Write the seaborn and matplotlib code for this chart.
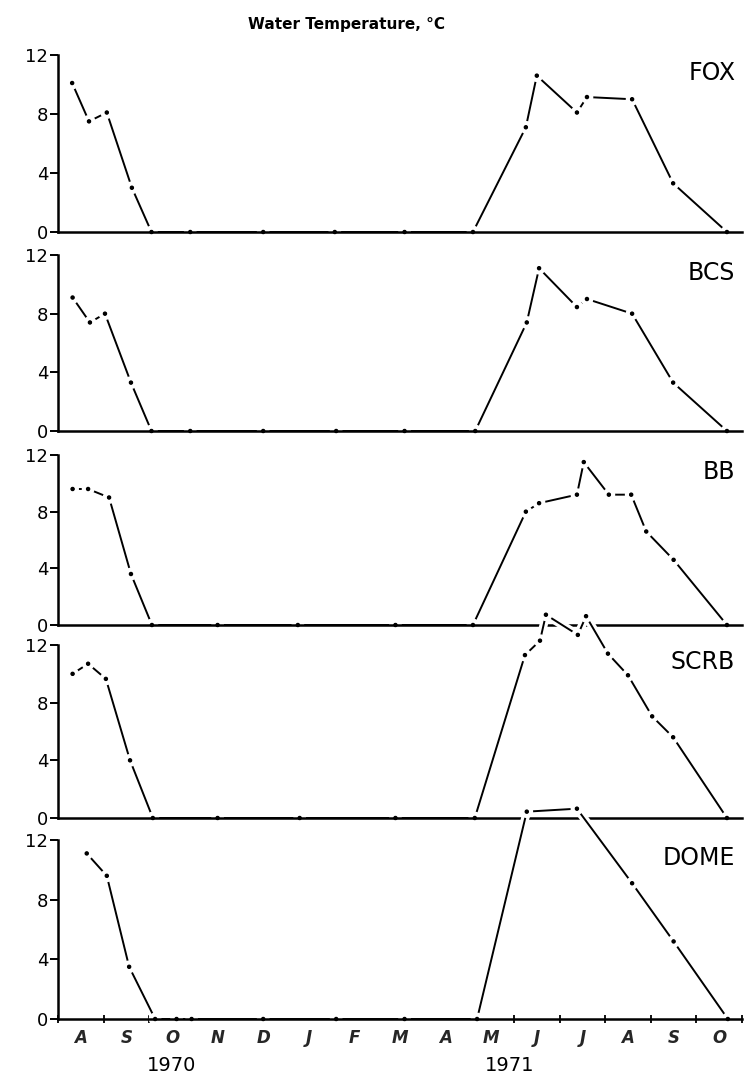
import numpy as np
import pandas as pd
import matplotlib
matplotlib.use("Agg")
import matplotlib.pyplot as plt
import matplotlib.patheffects as pe
import matplotlib.transforms as mtransforms
import seaborn as sns

# Sampling dates are given in months since 1 August 1970.
STATIONS = ["FOX", "BCS", "BB", "SCRB", "DOME"]

FOX_MONTH = [0.31, 0.68, 1.07, 1.62, 2.05, 2.9, 4.5, 6.07, 7.6, 9.1,
             10.26, 10.5, 11.38, 11.6, 12.59, 13.49, 14.67]
FOX_TEMP = [10.1, 7.5, 8.1, 3.0, 0, 0, 0, 0, 0, 0,
            7.1, 10.6, 8.1, 9.15, 9.0, 3.3, 0]

BCS_MONTH = [0.32, 0.70, 1.03, 1.6, 2.05, 2.9, 4.5, 6.1, 7.6, 9.15,
             10.28, 10.55, 11.38, 11.6, 12.59, 13.49, 14.67]
BCS_TEMP = [9.1, 7.4, 8.0, 3.3, 0, 0, 0, 0, 0, 0,
            7.4, 11.1, 8.45, 9.0, 8.0, 3.3, 0]

BB_MONTH = [0.32, 0.66, 1.12, 1.6, 2.06, 3.5, 5.26, 7.4, 9.1,
            10.26, 10.55, 11.38, 11.53, 12.08, 12.57, 12.9, 13.5, 14.67]
BB_TEMP = [9.6, 9.6, 9.0, 3.6, 0, 0, 0, 0, 0,
           8.0, 8.6, 9.2, 11.5, 9.2, 9.2, 6.6, 4.6, 0]

SCRB_MONTH = [0.32, 0.66, 1.05, 1.58, 2.08, 3.5, 5.3, 7.4, 9.14,
              10.24, 10.57, 10.7, 11.4, 11.58, 12.06, 12.5, 13.03, 13.49, 14.67]
SCRB_TEMP = [10.0, 10.7, 9.65, 4.0, 0, 0, 0, 0, 0,
             11.3, 12.3, 14.1, 12.7, 14.0, 11.4, 9.9, 7.05, 5.6, 0]

DOME_MONTH = [0.63, 1.07, 1.56, 2.13, 2.6, 2.93, 4.5, 6.1, 7.6, 9.19,
              10.28, 11.38, 12.59, 13.5, 14.69]
DOME_TEMP = [11.1, 9.6, 3.5, 0, 0, 0, 0, 0, 0, 0,
             13.9, 14.1, 9.1, 5.2, 0]

SERIES = {
    "FOX": (FOX_MONTH, FOX_TEMP),
    "BCS": (BCS_MONTH, BCS_TEMP),
    "BB": (BB_MONTH, BB_TEMP),
    "SCRB": (SCRB_MONTH, SCRB_TEMP),
    "DOME": (DOME_MONTH, DOME_TEMP),
}

MONTH_LABELS = ["A", "S", "O", "N", "D", "J", "F", "M",
                "A", "M", "J", "J", "A", "S", "O"]
YEAR_LABELS = ["1970", "1971"]
YEAR_CENTERS = [2.5, 9.9]
Y_TICKS = [0, 4, 8, 12]
TITLE = "Water Temperature, \u00b0C"

sns.set_style("ticks")
plt.rcParams["font.family"] = ["DejaVu Sans"]

W, H = 747, 1080
fig = plt.figure(figsize=(W / 100, H / 100), dpi=100)

# pixel extent of each panel: (top of 12-degree tick, zero line)
panel_px = [(55, 232), (255, 431), (455, 625), (645, 818), (840, 1019)]
left_px, right_px = 58, 742

axes = []
for i, name in enumerate(STATIONS):
    top, base = panel_px[i]
    ax = fig.add_axes([left_px / W, 1 - base / H,
                       (right_px - left_px) / W, (base - top) / H])
    ax.set_facecolor("none")
    months, temps = SERIES[name]
    df = pd.DataFrame({"month": months, "temp": temps})
    sns.lineplot(data=df, x="month", y="temp", ax=ax, color="black",
                 linewidth=1.4, marker="o", markersize=3.2,
                 markeredgewidth=0, clip_on=False,
                 path_effects=[pe.Stroke(linewidth=6, foreground="white"),
                               pe.Normal()])
    ax.set_xlim(0, 15)
    ax.set_ylim(0, 12)
    ax.set_xlabel("")
    ax.set_ylabel("")
    for side in ("top", "right"):
        ax.spines[side].set_visible(False)
    for side in ("left", "bottom"):
        ax.spines[side].set_linewidth(1.8)
        ax.spines[side].set_color("black")
    ax.set_yticks(Y_TICKS)
    ax.set_yticklabels([str(v) for v in Y_TICKS])
    ax.tick_params(axis="y", length=6, width=1.4, direction="out",
                   labelsize=13, pad=1, colors="black")
    ax.text(0.99, 10.8, name, transform=mtransforms.blended_transform_factory(
        ax.transAxes, ax.transData), ha="right", va="center", fontsize=17,
        color="black")
    if i < len(STATIONS) - 1:
        ax.tick_params(axis="x", bottom=False, labelbottom=False)
    axes.append(ax)

bottom = axes[-1]
bottom.set_xticks(np.arange(16))
bottom.set_xticklabels([""] * 16)
bottom.set_xticks(np.arange(15) + 0.5, minor=True)
bottom.set_xticklabels(MONTH_LABELS, minor=True, fontsize=12,
                       fontweight="bold", fontstyle="italic")
bottom.tick_params(axis="x", which="major", length=6, width=1.3,
                   direction="inout", colors="black")
bottom.tick_params(axis="x", which="minor", length=0, pad=7)

year_tf = mtransforms.blended_transform_factory(bottom.transData,
                                                bottom.transAxes)
for label, xc in zip(YEAR_LABELS, YEAR_CENTERS):
    bottom.text(xc, -0.26, label, transform=year_tf, ha="center",
                va="center", fontsize=14, color="black")

fig.text(347 / W, 1 - 25 / H, TITLE, ha="center", va="center",
         fontsize=11, fontweight="bold", color="black")

fig.savefig("out.png", dpi=100, facecolor="white")
